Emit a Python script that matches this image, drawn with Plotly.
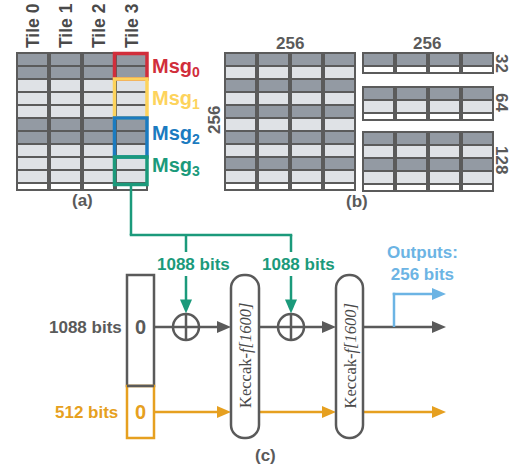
import plotly.graph_objects as go

W, H = 524, 470

# ---------------- data ----------------
tile_labels = ["Tile 0", "Tile 1", "Tile 2", "Tile 3"]
msg_labels = ["Msg<sub>0</sub>", "Msg<sub>1</sub>", "Msg<sub>2</sub>", "Msg<sub>3</sub>"]
msg_row_counts = [2, 3, 3, 2]
msg_colors = ["#d12e3b", "#fdd35c", "#1b7bc0", "#1b9a7b"]
rows_a = ["d", "d", "l", "l", "l", "d", "d", "l", "l", "l"]
rows_b_main = ["d", "l", "d", "l", "d", "l", "d", "l", "d", "l"]
rows_b_small = [["d"], ["d", "l"], ["d", "l", "d", "l"]]
b_size_labels = ["32", "64", "128"]
b_dim_labels = ["256", "256", "256"]
input_labels = ["1088 bits", "512 bits"]
register_values = ["0", "0"]
absorb_labels = ["1088 bits", "1088 bits"]
output_label = "Outputs:<br>256 bits"
perm_label = "Keccak-<i>f[1600]</i>"
panel_labels = ["(a)", "(b)", "(c)"]

# ---------------- style ----------------
GRID = "#5b5b5b"
DARK = "#939aa3"
LIGHT = "#dfe2e6"
GRAY = "#5a5a5a"
GREEN = "#1b9a7b"
ORANGE = "#e6a020"
BLUE = "#6cb4e4"
FONT = "Liberation Sans"

shapes = []
annots = []


def rect(x0, y0, x1, y1, fill, line=None, lw=0):
    shapes.append(dict(type="rect", x0=x0, y0=y0, x1=x1, y1=y1, fillcolor=fill,
                       line=dict(color=line or fill, width=lw), layer="above"))


def seg(x0, y0, x1, y1, color, w=2.5):
    shapes.append(dict(type="line", x0=x0, y0=y0, x1=x1, y1=y1,
                       line=dict(color=color, width=w), layer="above"))


def arrow(x0, y0, x1, y1, color, w=2.5, L=14, hw=6):
    dx, dy = x1 - x0, y1 - y0
    n = (dx * dx + dy * dy) ** 0.5
    ux, uy = dx / n, dy / n
    bx, by = x1 - ux * L, y1 - uy * L
    seg(x0, y0, bx + ux, by + uy, color, w)
    px, py = -uy * hw, ux * hw
    shapes.append(dict(type="path",
                       path=f"M {x1},{y1} L {bx+px},{by+py} L {bx-px},{by-py} Z",
                       fillcolor=color, line=dict(color=color, width=0), layer="above"))


def text(x, y, t, color=GRAY, size=17, xa="center", ya="middle", angle=0,
         family=FONT, bold=True):
    annots.append(dict(x=x, y=y, xref="x", yref="y", text=(f"<b>{t}</b>" if bold else t),
                       showarrow=False, xanchor=xa, yanchor=ya, textangle=angle,
                       font=dict(family=family, size=size, color=color)))


def grid(x0, y0, rows):
    n = len(rows)
    h = 13 * n + 9
    rect(x0, y0, x0 + 132, y0 + h, GRID)
    for c in range(4):
        cx0 = x0 + 2 + 33 * c
        cx1 = cx0 + 29
        for i, r in enumerate(rows):
            cy0 = y0 + 2 + 13 * i
            rect(cx0, cy0, cx1, cy0 + 11, DARK if r == "d" else LIGHT)
        cy0 = y0 + 2 + 13 * n
        rect(cx0, cy0, cx1, cy0 + 5, "white")
    return h


def rrect(x0, y0, x1, y1, r, color, w=2.5):
    k = 0.5523 * r
    p = (f"M {x0+r},{y0} L {x1-r},{y0} C {x1-r+k},{y0} {x1},{y0+r-k} {x1},{y0+r} "
         f"L {x1},{y1-r} C {x1},{y1-r+k} {x1-r+k},{y1} {x1-r},{y1} "
         f"L {x0+r},{y1} C {x0+r-k},{y1} {x0},{y1-r+k} {x0},{y1-r} "
         f"L {x0},{y0+r} C {x0},{y0+r-k} {x0+r-k},{y0} {x0+r},{y0} Z")
    shapes.append(dict(type="path", path=p, fillcolor="white",
                       line=dict(color=color, width=w), layer="above"))


# ---------------- panel (a) ----------------
ax0, ay0 = 16, 52
grid(ax0, ay0, rows_a)
for c, t in enumerate(tile_labels):
    text(ax0 + 2 + 33 * c + 14.5, 50, t, color="#4a4a4a", size=17.5, ya="bottom", angle=-90)

bounds = [0]
for cnt in msg_row_counts:
    bounds.append(bounds[-1] + cnt)
mx0, mx1 = ax0 + 98.5, ax0 + 131
msg_label_y = [67, 99, 134, 166]
for k, (lab, col) in enumerate(zip(msg_labels, msg_colors)):
    top = ay0 + 1 + 13 * bounds[k] + (0.5 if k == 0 else 0)
    bot = ay0 + 1 + 13 * bounds[k + 1] + (1.5 if k == len(msg_labels) - 1 else 0)
    shapes.append(dict(type="rect", x0=mx0, y0=top, x1=mx1, y1=bot,
                       line=dict(color=col, width=3.5), fillcolor="rgba(0,0,0,0)",
                       layer="above"))
    text(mx1 + 3, msg_label_y[k], lab, color=col, size=20, xa="left")
text(82, 200, panel_labels[0])

# ---------------- panel (b) ----------------
bx0 = 224
grid(bx0, 52, rows_b_main)
rx0 = 362
small_tops = [52, 86, 131]
small_label_y = [63, 102, 160]
for rows, top, lab, ly in zip(rows_b_small, small_tops, b_size_labels, small_label_y):
    grid(rx0, top, rows)
    text(502, ly, lab, size=17, angle=90)
text(290, 43, b_dim_labels[0])
text(427, 43, b_dim_labels[1])
text(214, 120, b_dim_labels[2], angle=-90)
text(357, 201, panel_labels[1])

# ---------------- panel (c) ----------------
YT, YB = 327, 412
# register
rect(127, 275, 154, 386, "white", GRAY, 2.5)
rect(127, 386, 154, 438, "white", ORANGE, 2.5)
seg(127, 386, 154, 386, GRAY, 2.5)
text(140.5, YT, register_values[0], GRAY, size=20)
text(140.5, YB, register_values[1], ORANGE, size=20)
text(124, YT, input_labels[0], GRAY, xa="right")
text(120, YB, input_labels[1], ORANGE, xa="right")

circles = [186, 291]
R = 13
kecc = [(231, 259), (336, 363)]
# green feed from tile 3
gx = ax0 + 115
seg(gx, 185, gx, 235, GREEN)
seg(gx - 1.25, 235, circles[1] + 1.25, 235, GREEN)
for cx, lab in zip(circles, absorb_labels):
    seg(cx, 235, cx, 252, GREEN)
    arrow(cx, 276, cx, YT - R - 0.5, GREEN)
    text(cx + 7, 264, lab, GREEN)
    shapes.append(dict(type="circle", x0=cx - R, y0=YT - R, x1=cx + R, y1=YT + R,
                       line=dict(color=GRAY, width=2.5), fillcolor="white", layer="above"))
    seg(cx - R, YT, cx + R, YT, GRAY)
    seg(cx, YT - R, cx, YT + R, GRAY)

# gray state line
seg(154, YT, circles[0] - R, YT, GRAY)
arrow(circles[0] + R, YT, kecc[0][0], YT, GRAY)
seg(kecc[0][1], YT, circles[1] - R, YT, GRAY)
arrow(circles[1] + R, YT, kecc[1][0], YT, GRAY)
arrow(kecc[1][1], YT, 446, YT, GRAY)
# orange capacity line
arrow(154, YB, kecc[0][0], YB, ORANGE)
arrow(kecc[0][1], YB, kecc[1][0], YB, ORANGE)
arrow(kecc[1][1], YB, 446, YB, ORANGE)
# output branch
seg(394, YT, 394, 294 - 1.25, BLUE)
arrow(394 - 1.25, 294, 446, 294, BLUE)
text(422, 263, output_label, BLUE)

for x0, x1 in kecc:
    rrect(x0, 275, x1, 438, 13, GRAY)
    text((x0 + x1) / 2, 356, perm_label, "#4a4a4a", size=16.5, angle=-90,
         family="Liberation Serif", bold=False)

text(265, 455, panel_labels[2])

fig = go.Figure()
fig.update_layout(
    width=W, height=H, margin=dict(l=0, r=0, t=0, b=0),
    paper_bgcolor="white", plot_bgcolor="white",
    xaxis=dict(range=[0, W], visible=False, fixedrange=True),
    yaxis=dict(range=[H, 0], visible=False, fixedrange=True),
    shapes=shapes, annotations=annots, showlegend=False,
)
fig.write_html("out.html", config={"displayModeBar": False},
               post_script="document.body.style.margin='0px';document.body.style.overflow='hidden';")
